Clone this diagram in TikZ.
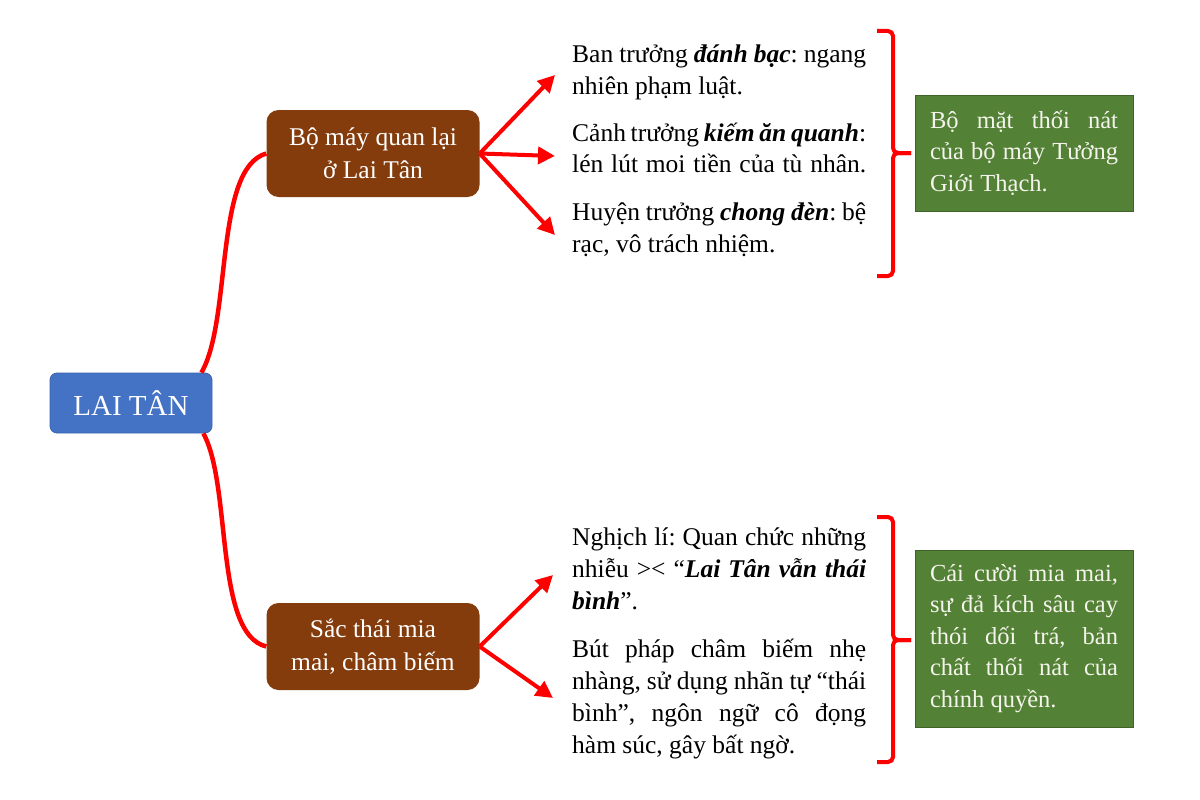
\documentclass[tikz,border=0pt]{standalone}
\usepackage{fontspec}
\setmainfont{Liberation Serif}
\usetikzlibrary{arrows.meta}
\definecolor{laiblue}{HTML}{4472C4}
\definecolor{laiblueline}{HTML}{3A64AE}
\definecolor{brownfill}{HTML}{843C0C}
\definecolor{greenfill}{HTML}{538135}
\definecolor{greenline}{HTML}{3F6328}
\definecolor{lighttext}{HTML}{F4F4EC}
\newcommand\jl[2]{{\spaceskip=0pt\xspaceskip=0pt\makebox[#1][s]{#2}}}
\newcommand\bi[1]{\textbf{\textit{#1}}}
\frenchspacing
\begin{document}
\begin{tikzpicture}[x=1pt,y=-1pt,
  conn/.style={red, line width=4.5pt},
  arr/.style={red, line width=4pt, -{Triangle[length=17pt,width=17pt]}},
  bracestyle/.style={red, line width=4pt, rounded corners=5pt},
  rootbox/.style={draw=laiblueline, line width=0.8pt, fill=laiblue, rounded corners=7pt,
    minimum width=162pt, minimum height=60pt, text=white, inner sep=0pt,
    font=\fontsize{29}{32}\selectfont},
  bmbox/.style={fill=brownfill, rounded corners=12pt, minimum width=213pt, minimum height=87pt,
    text=white, align=center, inner sep=0pt, font=\fontsize{25.5}{33}\selectfont},
  item/.style={anchor=base west, inner sep=0pt, text width=294pt, align=flush left,
    font=\fontsize{25.5}{32}\selectfont},
  gbox/.style={draw=greenline, line width=0.8pt, fill=greenfill, text=lighttext,
    inner xsep=15pt, inner ysep=0pt, text width=188pt, align=flush left,
    font=\fontsize{24.5}{31.6}\selectfont}]
\useasboundingbox (0,0) rectangle (1200,800);
\fill[white] (0,0) rectangle (1200,800);

% main nodes
\node[rootbox] (lai) at (131,403) {LAI TÂN};
\node[bmbox] (bm1) at (373,153.5) {Bộ máy quan lại\\ở Lai Tân};
\node[bmbox] (bm2) at (373,646.5) {Sắc thái mia\\mai, châm biếm};

% curves
\draw[conn] ([xshift=-11pt]lai.north east) .. controls (232,320) and (214,168) .. (bm1.west);
\draw[conn] ([xshift=-9pt]lai.south east) .. controls (232,486) and (214,634) .. (bm2.west);

% arrow tips
\coordinate (t1) at (555,75);
\coordinate (t2) at (555,156);
\coordinate (t3) at (555,235);
\coordinate (t4) at (553,575);
\coordinate (t5) at (553,698);
\draw[arr] (bm1.east) -- (t1);
\draw[arr] (bm1.east) -- (t2);
\draw[arr] (bm1.east) -- (t3);
\draw[arr] (bm2.east) -- (t4);
\draw[arr] (bm2.east) -- (t5);

% items
\node[item] (a1) at (572,63) {\jl{294pt}{Ban trưởng \bi{đánh bạc}: ngang}\\nhiên phạm luật.};
\node[item] (a2) at (572,141) {\jl{294pt}{Cảnh trưởng \bi{kiếm ăn quanh}:}\\\jl{294pt}{lén lút moi tiền của tù nhân.}};
\node[item] (a3) at (572,220) {\jl{294pt}{Huyện trưởng \bi{chong đèn}: bệ}\\rạc, vô trách nhiệm.};
\node[item] (b1) at (572,545) {\jl{294pt}{Nghịch lí: Quan chức những}\\\jl{294pt}{nhiễu >< “\bi{Lai Tân vẫn thái}}\\\bi{bình}”.};
\node[item] (b2) at (572,657) {\jl{294pt}{Bút pháp châm biếm nhẹ}\\\jl{294pt}{nhàng, sử dụng nhãn tự “thái}\\\jl{294pt}{bình”, ngôn ngữ cô đọng}\\hàm súc, gây bất ngờ.};

% braces
\coordinate (k1) at (911,153);
\coordinate (k2) at (911,640);
\draw[bracestyle] (877,31) -- (893,31) -- (893,153) -- (k1);
\draw[bracestyle] (k1) -- (893,153) -- (893,276) -- (877,276);
\draw[bracestyle] (877,517) -- (893,517) -- (893,640) -- (k2);
\draw[bracestyle] (k2) -- (893,640) -- (893,762) -- (877,762);

% conclusions
\node[gbox, minimum height=116pt] (g1) at (1024,153)
  {\jl{188pt}{Bộ mặt thối nát}\\\jl{188pt}{của bộ máy Tưởng}\\Giới Thạch.};
\node[gbox, minimum height=177pt] (g2) at (1024,638.5)
  {\jl{188pt}{Cái cười mia mai,}\\\jl{188pt}{sự đả kích sâu cay}\\\jl{188pt}{thói dối trá, bản}\\\jl{188pt}{chất thối nát của}\\chính quyền.};
\end{tikzpicture}
\end{document}
